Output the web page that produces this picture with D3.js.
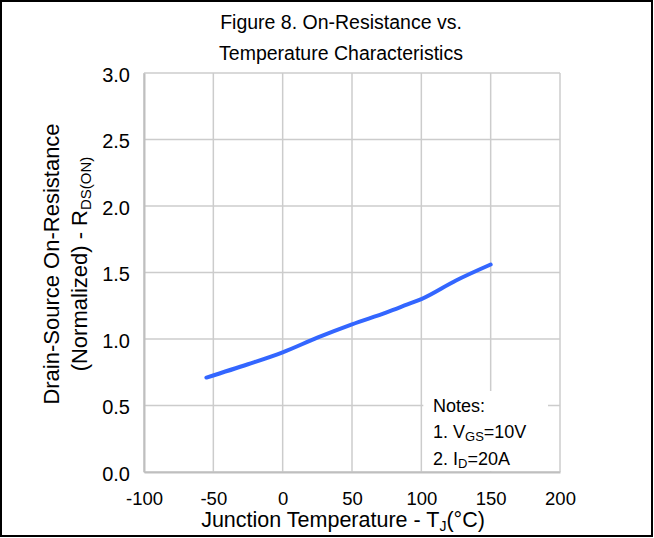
<!DOCTYPE html>
<html>
<head>
<meta charset="utf-8">
<script src="https://cdn.jsdelivr.net/npm/d3@7"></script>
<style>
	body { margin: 0; background: #fff; }
	svg text { font-family: "Liberation Sans", Arial, sans-serif; fill: #000; }
</style>
</head>
<body>
<div id="chart"></div>
<script>
// data
const temps = [-55, -25, 0, 25, 50, 75, 90, 100, 125, 150];
const rdson = [0.71, 0.81, 0.90, 1.01, 1.11, 1.20, 1.26, 1.30, 1.44, 1.56];
const xTicks = [-100, -50, 0, 50, 100, 150, 200];
const yTicks = [0, 0.5, 1.0, 1.5, 2.0, 2.5, 3.0];

const width = 654, height = 538;
const margin = { top: 73, right: 94, bottom: 66, left: 144 };

const svg = d3.select('#chart').append('svg')
	.attr('width', width)
	.attr('height', height);

// outer frame
svg.append('rect')
	.attr('x', 1).attr('y', 1)
	.attr('width', width - 3).attr('height', height - 3)
	.attr('fill', 'none')
	.attr('stroke', '#000')
	.attr('stroke-width', 2);

const x = d3.scaleLinear().domain([-100, 200]).range([margin.left, width - margin.right]);
const y = d3.scaleLinear().domain([0, 3]).range([height - margin.bottom, margin.top]);

// grid
svg.append('g')
	.selectAll('line')
	.data(xTicks)
	.enter()
	.append('line')
	.attr('x1', d => x(d)).attr('x2', d => x(d))
	.attr('y1', y(0)).attr('y2', y(3))
	.attr('stroke', '#cccccc')
	.attr('stroke-width', 1.5);

svg.append('g')
	.selectAll('line')
	.data(yTicks)
	.enter()
	.append('line')
	.attr('x1', x(-100)).attr('x2', x(200))
	.attr('y1', d => y(d)).attr('y2', d => y(d))
	.attr('stroke', '#cccccc')
	.attr('stroke-width', 1.5);

// axes: labels only, plus gray domain lines
let xAxis = svg.append('g')
	.attr('transform', 'translate(0,' + y(0) + ')')
	.call(d3.axisBottom(x).tickValues(xTicks).tickSize(0).tickPadding(33).tickFormat(d => String(d)));
xAxis.select('.domain').attr('stroke', '#bfbfbf').attr('stroke-width', 2);
xAxis.selectAll('text').style('font-size', '18.5px').attr('dy', 0);

let yAxis = svg.append('g')
	.attr('transform', 'translate(' + x(-100) + ',0)')
	.call(d3.axisLeft(y).tickValues(yTicks).tickSize(0).tickPadding(14).tickFormat(d3.format('.1f')));
yAxis.select('.domain').attr('stroke', '#bfbfbf').attr('stroke-width', 2);
yAxis.selectAll('text').style('font-size', '20px').attr('dy', '0.4em');

// curve
const line = d3.line()
	.x((d, i) => x(temps[i]))
	.y(d => y(d))
	.curve(d3.curveMonotoneX);

svg.append('path')
	.datum(rdson)
	.attr('d', line)
	.attr('fill', 'none')
	.attr('stroke', '#3366ff')
	.attr('stroke-width', 4)
	.attr('stroke-linecap', 'round');

// notes box
const bx = x(100) + 2, by = 391;
const notes = svg.append('g').attr('transform', 'translate(' + bx + ',' + by + ')');
notes.append('rect')
	.attr('width', 548 - bx).attr('height', y(0) - 1 - by)
	.attr('fill', '#fff');
notes.append('text').attr('x', 433 - bx).attr('y', 21).style('font-size', '18px').text('Notes:');
let n1 = notes.append('text').attr('x', 433 - bx).attr('y', 47).style('font-size', '18px');
n1.append('tspan').text('1. V');
n1.append('tspan').attr('dy', 3).style('font-size', '13px').text('GS');
n1.append('tspan').attr('dy', -3).text('=10V');
let n2 = notes.append('text').attr('x', 433 - bx).attr('y', 74).style('font-size', '18px');
n2.append('tspan').text('2. I');
n2.append('tspan').attr('dy', 3).style('font-size', '13px').text('D');
n2.append('tspan').attr('dy', -3).text('=20A');

// title
svg.append('text')
	.attr('x', 341).attr('y', 29)
	.attr('text-anchor', 'middle')
	.style('font-size', '19.5px')
	.text('Figure 8. On-Resistance vs.');
svg.append('text')
	.attr('x', 341).attr('y', 60)
	.attr('text-anchor', 'middle')
	.style('font-size', '19.5px')
	.text('Temperature Characteristics');

// x title
let xt = svg.append('text')
	.attr('x', 343).attr('y', 527)
	.attr('text-anchor', 'middle')
	.style('font-size', '21.5px');
xt.append('tspan').text('Junction Temperature - T');
xt.append('tspan').attr('dy', 4).style('font-size', '14px').text('J');
xt.append('tspan').attr('dy', -4).text('(°C)');

// y title
let yc = 264;
svg.append('text')
	.attr('transform', 'translate(59,' + yc + ') rotate(-90)')
	.attr('text-anchor', 'middle')
	.style('font-size', '22px')
	.text('Drain-Source On-Resistance');
let yt = svg.append('text')
	.attr('transform', 'translate(87,' + yc + ') rotate(-90)')
	.attr('text-anchor', 'middle')
	.style('font-size', '22px');
yt.append('tspan').text('(Normalized) - R');
yt.append('tspan').attr('dy', 4).style('font-size', '15px').text('DS(ON)');
</script>
</body>
</html>
